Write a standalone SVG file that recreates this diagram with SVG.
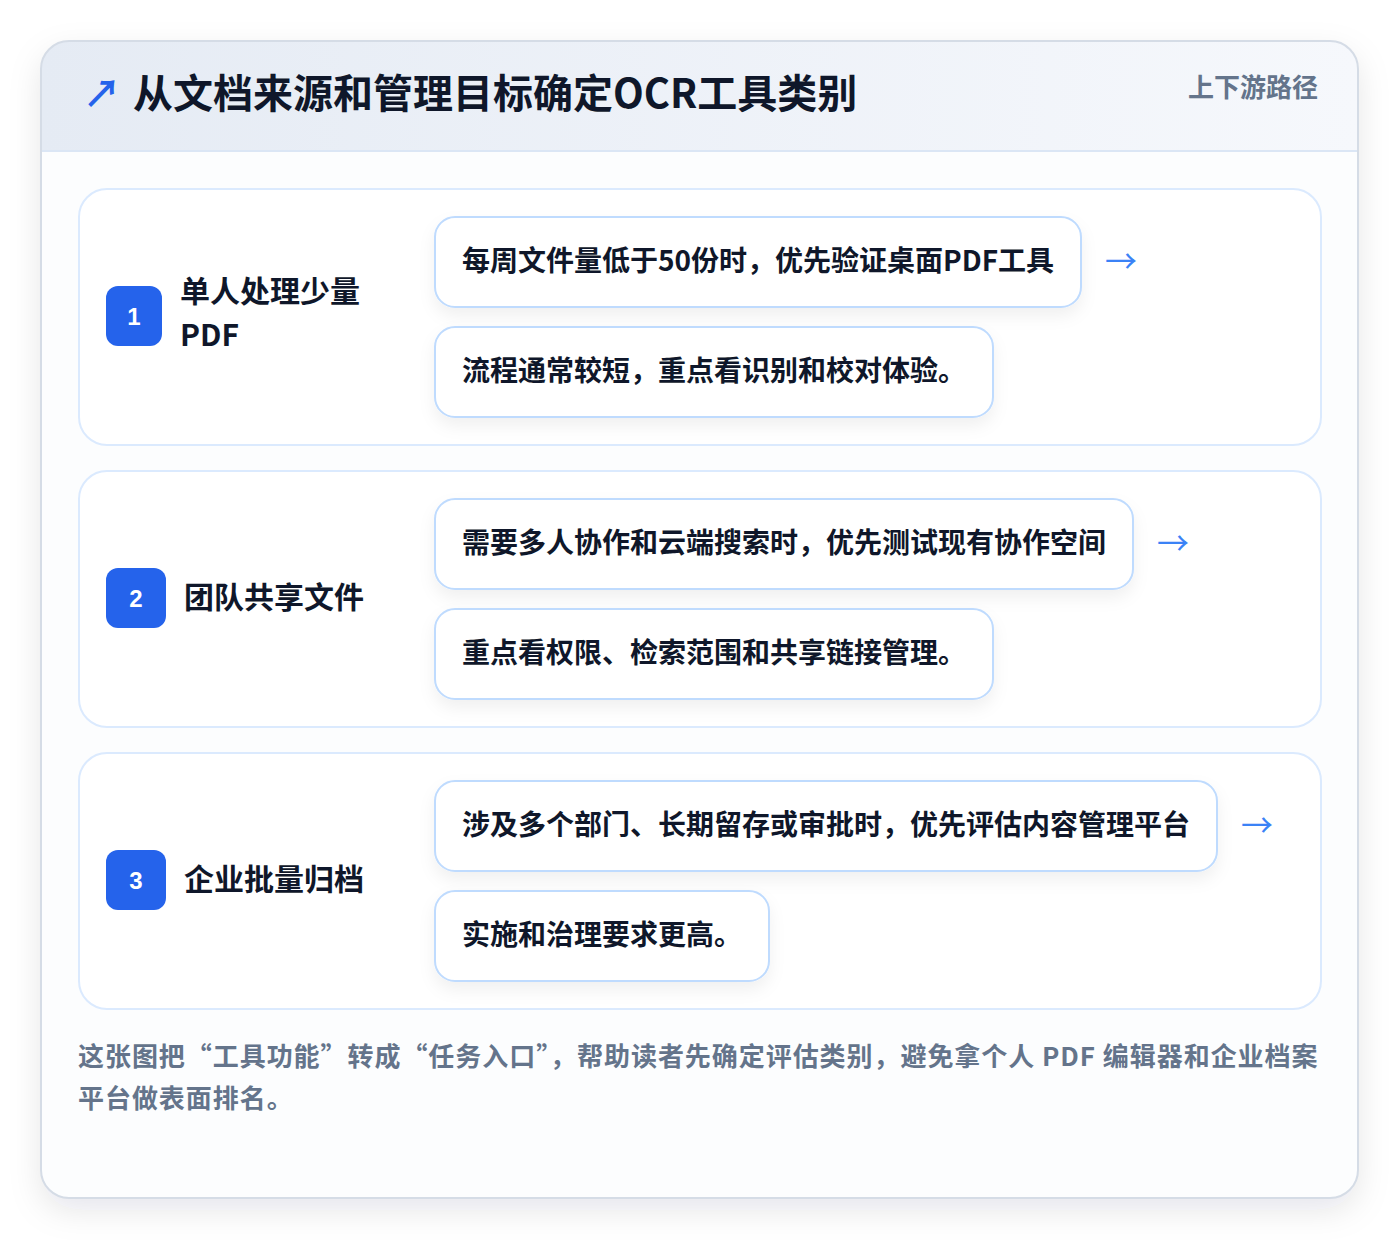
<svg xmlns="http://www.w3.org/2000/svg" width="1400" height="1240" viewBox="0 0 1400 1240">
<defs>
<linearGradient id="hdr" x1="0" y1="0" x2="1" y2="0">
<stop offset="0" stop-color="#e5ebf4"/>
<stop offset="1" stop-color="#f6f8fc"/>
</linearGradient>
<filter id="cardShadow" x="-10%" y="-10%" width="120%" height="120%">
<feDropShadow dx="0" dy="12" stdDeviation="16" flood-color="#0f172a" flood-opacity="0.10"/>
</filter>
<filter id="boxShadow" x="-10%" y="-20%" width="120%" height="160%">
<feDropShadow dx="0" dy="8" stdDeviation="8" flood-color="#0f172a" flood-opacity="0.06"/>
</filter>
<clipPath id="cardClip"><rect x="41" y="41" width="1317" height="1157" rx="28"/></clipPath>
</defs>
<style>
.cjk{font-family:"Noto Sans CJK SC","Noto Sans",sans-serif;}
.title{font-size:40px;font-weight:700;fill:#0f172a;}
.tag{font-size:26px;font-weight:700;fill:#64748b;}
.panel{fill:#ffffff;stroke:#dbeafe;stroke-width:2;}
.badge{fill:#2563eb;}
.num{font-family:"Liberation Sans",Arial,sans-serif;font-size:24px;font-weight:700;fill:#ffffff;}
.label{font-size:30px;font-weight:700;fill:#0f172a;}
.box{fill:#ffffff;stroke:#bfdbfe;stroke-width:2;}
.btxt{font-size:28px;font-weight:700;fill:#0f172a;}
.arr{font-size:32px;fill:#3b82f6;}
.foot{font-size:26px;font-weight:700;fill:#64748b;letter-spacing:0.95px;}
</style>
<rect x="0" y="0" width="1400" height="1240" fill="#ffffff"/>
<g id="card">
<rect x="41" y="41" width="1317" height="1157" rx="28" fill="#ffffff" filter="url(#cardShadow)"/>
<g clip-path="url(#cardClip)">
<rect x="41" y="41" width="1317" height="110" fill="url(#hdr)"/>
<rect x="41" y="151" width="1317" height="1047" fill="#fcfdfe"/>
<line x1="41" y1="151" x2="1358" y2="151" stroke="#dbe6f5" stroke-width="2"/>
</g>
<rect x="41" y="41" width="1317" height="1157" rx="28" fill="none" stroke="#d5dce6" stroke-width="2"/>
</g>
<g id="header">
<text x="83" y="107" class="cjk" font-size="38" font-weight="700" fill="#2563eb">↗</text>
<text x="133" y="108" class="cjk title">从文档来源和管理目标确定OCR工具类别</text>
<text x="1318" y="97" class="cjk tag" text-anchor="end">上下游路径</text>
</g>
<g id="row1">
<rect x="79" y="189" width="1242" height="256" rx="28" class="panel"/>
<rect x="106" y="286" width="56" height="60" rx="12" class="badge"/>
<text x="134" y="325" class="num" text-anchor="middle">1</text>
<text x="180" y="302" class="cjk label">单人处理少量</text>
<text x="180" y="346" class="cjk label">PDF</text>
</g>
<g id="row1-box1">
<rect x="435" y="217" width="646" height="90" rx="20" class="box" filter="url(#boxShadow)"/>
<text x="462" y="271" class="cjk btxt">每周文件量低于50份时，优先验证桌面PDF工具</text>
</g>
<g id="row1-box2">
<rect x="435" y="327" width="558" height="90" rx="20" class="box" filter="url(#boxShadow)"/>
<text x="462" y="381" class="cjk btxt">流程通常较短，重点看识别和校对体验。</text>
</g>
<g id="row2">
<rect x="79" y="471" width="1242" height="256" rx="28" class="panel"/>
<rect x="106" y="568" width="60" height="60" rx="12" class="badge"/>
<text x="136" y="607" class="num" text-anchor="middle">2</text>
<text x="184" y="608" class="cjk label">团队共享文件</text>
</g>
<g id="row2-box1">
<rect x="435" y="499" width="698" height="90" rx="20" class="box" filter="url(#boxShadow)"/>
<text x="462" y="553" class="cjk btxt">需要多人协作和云端搜索时，优先测试现有协作空间</text>
</g>
<g id="row2-box2">
<rect x="435" y="609" width="558" height="90" rx="20" class="box" filter="url(#boxShadow)"/>
<text x="462" y="663" class="cjk btxt">重点看权限、检索范围和共享链接管理。</text>
</g>
<g id="row3">
<rect x="79" y="753" width="1242" height="256" rx="28" class="panel"/>
<rect x="106" y="850" width="60" height="60" rx="12" class="badge"/>
<text x="136" y="889" class="num" text-anchor="middle">3</text>
<text x="184" y="890" class="cjk label">企业批量归档</text>
</g>
<g id="row3-box1">
<rect x="435" y="781" width="782" height="90" rx="20" class="box" filter="url(#boxShadow)"/>
<text x="462" y="835" class="cjk btxt">涉及多个部门、长期留存或审批时，优先评估内容管理平台</text>
</g>
<g id="row3-box2">
<rect x="435" y="891" width="334" height="90" rx="20" class="box" filter="url(#boxShadow)"/>
<text x="462" y="945" class="cjk btxt">实施和治理要求更高。</text>
</g>
<g id="connectors">
<text x="1105" y="273" class="cjk arr">→</text>
<text x="1157" y="555" class="cjk arr">→</text>
<text x="1241" y="837" class="cjk arr">→</text>
</g>
<g id="footer">
<text x="78" y="1066" class="cjk foot">这张图把“工具功能”转成“任务入口”，帮助读者先确定评估类别，避免拿个人 PDF 编辑器和企业档案</text>
<text x="78" y="1108" class="cjk foot">平台做表面排名。</text>
</g>
</svg>
